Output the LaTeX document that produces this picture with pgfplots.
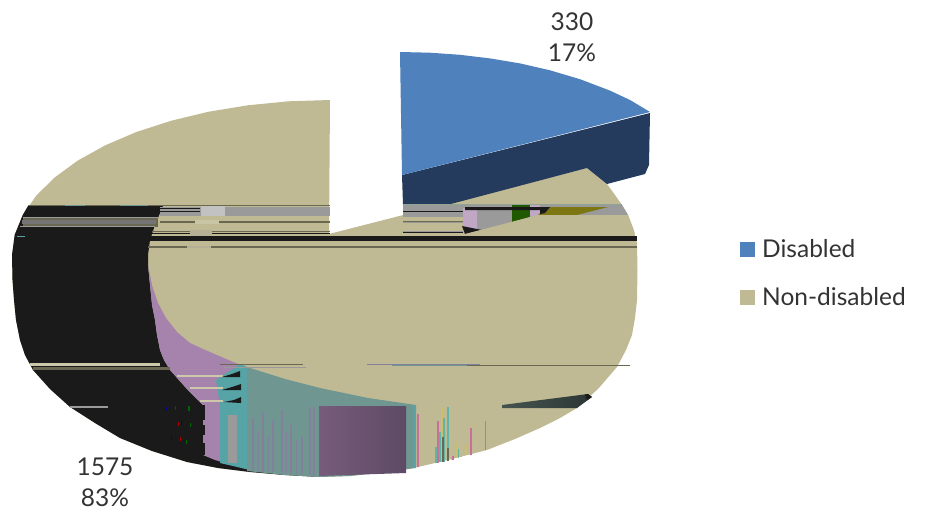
\documentclass[border=0pt]{standalone}
\usepackage{fontspec}
\setmainfont{Lato}
\usepackage{pgfplots}
\pgfplotsset{compat=1.18}
\definecolor{tan}{HTML}{C0BA94}
\definecolor{blueTop}{HTML}{4F81BD}
\definecolor{blueSide}{HTML}{243B5E}
\definecolor{ink}{HTML}{1A1A1A}
\definecolor{mauve}{HTML}{A583AC}
\definecolor{mauveL}{HTML}{775C7C}
\definecolor{mauveR}{HTML}{5D4A63}
\definecolor{teal2}{HTML}{57A4A7}
\definecolor{sage}{HTML}{6F9690}
\definecolor{steel}{HTML}{9A9A9A}
\definecolor{olive2}{HTML}{6A6850}
\definecolor{slate}{HTML}{45534F}
\definecolor{slateD}{HTML}{2C3735}
\definecolor{pinkS}{HTML}{C86F9A}
\definecolor{goldS}{HTML}{CDBE6E}
\definecolor{tealS}{HTML}{62B5A4}
\definecolor{plumS}{HTML}{83809C}
% a flat rectangle: colour, x from, x to, y from, y to
\newcommand\band[5]{\addplot[draw=none,fill=#1,forget plot] coordinates {(#2,#4)(#3,#4)(#3,#5)(#2,#5)} --cycle;}
\begin{document}
\begin{tikzpicture}
\begin{axis}[at={(0,0)},anchor=south west,scale only axis,width=927pt,height=517pt,
  xmin=0,xmax=927,ymin=0,ymax=517,y dir=reverse,hide axis,clip=false]
% large slice, top surface and front wall
\addplot[draw=none,fill=tan,forget plot] coordinates {(330,100)(288.5,101.3)(247.7,105.3)(208.3,111.8)(171,120.8)(136.4,132)(105.1,145.4)(77.7,160.6)(54.6,177.5)(36.2,195.7)(22.8,214.9)(14.7,234.8)(12,255)(12.5,280)(14,300)(16,320)(20,340)(25,355)(33,370)(50,389)(70,407)(95,423)(120,438)(152,451)(187,462)(218,468)(250,472)(285,475)(320,477)(350,476)(385,472)(418,467)(452,459)(487,450)(515,439)(540,428)(560,418)(577,408)(598,389)(617,367)(626,350)(632,335)(635,318)(637,300)(637.5,270)(637,243)(633,228)(628,215)(622,205)(615,195)(607,184)(600,178)(587,168)(329,234)} --cycle;
% small slice pulled out of the pie
\addplot[draw=none,fill=blueSide,forget plot] coordinates {(402,175)(650,113)(649,165)(645,174)(607,184)(587,168)(447,205)(403,205)} --cycle;
\addplot[draw=none,fill=blueTop,forget plot] coordinates {(400,52)(430,52.7)(460,54.8)(490,58.4)(520,63.4)(550,70.3)(580,79.2)(610,90.6)(630,100)(650,112)(402,175)} --cycle;
% dark wall on the left
\addplot[draw=none,fill=ink,forget plot] coordinates {(28,206)(163,206)(155,225)(150,240)(148,255)(148,265)(150,285)(152,305)(155,320)(157,335)(160,350)(164,360)(170,370)(186,388)(203,405)(203,455)(250,469)(320,477)(285,475)(250,472)(218,468)(187,462)(152,451)(120,438)(95,423)(70,407)(50,389)(33,370)(25,355)(20,340)(16,320)(14,300)(12.5,280)(12,255)(14.7,234.8)(22.8,214.9)} --cycle;
% coloured wall along the front
\addplot[draw=none,fill=mauve,forget plot] coordinates {(148,265)(152,285)(158,303)(166,318)(177,332)(190,343)(203,349)(217,355)(233,362)(250,368)(250,470)(215,460)(203,455)(203,405)(186,388)(170,370)(164,360)(160,350)(157,335)(155,320)(152,305)(150,285)} --cycle;
\addplot[draw=none,fill=teal2,forget plot] coordinates {(240,364)(250,368)(250,470)(220,463)(220,405)(216,380)} --cycle;
\addplot[draw=none,fill=sage,forget plot] coordinates {(247,367)(285,379)(320,388)(368,398)(416,405)(416,468)(385,472)(350,476)(320,477)(285,475)(247,471)} --cycle;
\band{steel}{228}{237}{415}{463}
\addplot[draw=none,left color=mauveL,right color=mauveR,forget plot] coordinates {(319,406)(406,406)(406,473)(319,476)} --cycle;
\band{teal2}{413}{416}{405}{468}
% thin uprights in the wall
\band{plumS}{252}{254}{418}{470}\band{plumS}{258}{259}{430}{471}\band{plumS}{262}{264}{412}{472}\band{plumS}{268}{269}{435}{472}\band{plumS}{272}{274}{420}{472}
\band{plumS}{281}{283}{410}{472}\band{plumS}{286}{287}{432}{473}\band{plumS}{290}{292}{425}{474}\band{plumS}{296}{297}{440}{474}\band{plumS}{301}{303}{437}{475}
\band{plumS}{309}{311}{407}{475}\band{plumS}{313}{315}{407}{475}
% thin uprights on the tan surface
\band{pinkS}{417}{419}{414}{467}\band{pinkS}{437}{439}{421}{463}\band{tealS}{435}{437}{447}{463}
\band{tealS}{439}{441}{432}{462}\band{goldS}{441}{443}{407}{462}\band{tealS}{443}{445}{418}{462}
\band{olive2}{442}{444}{437}{462}\band{tealS}{447}{449}{407}{461}\band{olive2}{447}{449}{448}{461}
\band{goldS}{451}{452}{433}{460}\band{pinkS}{452}{454}{456}{460}\band{goldS}{456}{457}{443}{458}
\band{tealS}{458}{459}{449}{458}\band{goldS}{461}{462}{448}{457}\band{goldS}{465}{467}{444}{455}
\band{pinkS}{470}{472}{428}{455}\band{goldS}{475}{476}{438}{453}\band{pinkS}{485}{486}{421}{450}
% dark wedge at the lower right
\addplot[draw=none,left color=slate,right color=slateD,forget plot] coordinates {(502,405)(588,394)(592,397)(577,408)(502,408)} --cycle;
\addplot[draw=none,fill=ink,forget plot] coordinates {(585,394.5)(588,394)(592,397)(587,400)} --cycle;
% light streaks and dark notches at the wall's shoulder
\band{tan!80!white}{177}{223}{375}{377}\band{tan!80!white}{190}{223}{387}{389}\band{tan!80!white}{200}{223}{400}{402}
\addplot[draw=none,fill=ink,forget plot] coordinates {(222,377)(232,374)(240,371)(240,377)} --cycle;
\addplot[draw=none,fill=ink,forget plot] coordinates {(222,390)(232,387)(241,384)(241,390)} --cycle;
\addplot[draw=none,fill=ink,forget plot] coordinates {(224,402)(234,400)(241,397)(241,403)} --cycle;
\band{steel}{70}{108}{406}{408}
\band{ink}{200}{205}{405}{420}\band{ink}{200}{205}{425}{435}\band{ink}{200}{205}{443}{455}
\band{red!70!black}{175}{176}{406}{410}\band{red!70!black}{178}{179}{422}{426}\band{red!70!black}{180}{181}{437}{441}
\band{blue!60!black}{166}{167}{407}{410}\band{blue!60!black}{181}{182}{421}{425}\band{blue!60!black}{171}{172}{436}{440}
\band{green!40!black}{188}{190}{406}{411}\band{green!40!black}{190}{191}{423}{427}\band{green!40!black}{186}{187}{440}{444}
% horizontal streaks across the upper part of the pie
\band{olive2}{28}{330}{205}{206}\band{sage}{65}{85}{205}{206}\band{sage}{120}{148}{205}{206}
\band{steel}{160}{330}{207}{216}\band{ink}{160}{200}{208}{209}\band{ink}{160}{200}{211}{212}
\band{steel!60!white}{201}{225}{206}{216}
\band{olive2}{160}{330}{221}{223}\band{tan!85!white}{195}{219}{220}{224}
\band{olive2}{23}{158}{217}{227}\band{steel}{23}{158}{217}{218}\band{steel!70!ink}{22}{156}{220}{224}\band{steel}{20}{155}{226}{227}
\band{olive2}{152}{330}{231}{232}\band{ink}{152}{330}{233}{234}
\band{tan!70!steel}{190}{212}{230}{236}
\band{ink}{148}{637}{236}{241}\band{teal2}{17}{25}{236}{237}
\band{olive2}{148}{637}{246}{248}\band{tan!70!steel}{187}{211}{246}{248}
% streaks where the colours change, right of the apex
\band{steel}{403}{463}{205}{233}
\band{tan}{403}{463}{217}{221}\band{tan}{403}{463}{223}{231}\band{olive2}{403}{463}{221}{222}
\band{ink}{403}{463}{211}{212}\band{ink}{403}{463}{232}{233}
\addplot[draw=none,fill=steel,forget plot] coordinates {(463,205)(622,205)(628,215)(577,215)(465,234)} --cycle;
\addplot[draw=none,fill=mauve!70!white,forget plot] coordinates {(463,208)(477,208)(477,229)(463,233)} --cycle;
\addplot[draw=none,fill=ink,forget plot] coordinates {(465,234)(462,226)(482,230)} --cycle;
\addplot[draw=none,fill=green!30!black!75!olive,forget plot] coordinates {(512,205)(530,205)(530,217)(512,222)} --cycle;
\addplot[draw=none,fill=mauve!70!white,forget plot] coordinates {(530,205)(540,205)(540,215)(530,217)} --cycle;
\addplot[draw=none,fill=olive!85!black,forget plot] coordinates {(547,207)(608,207)(577,215)(538,215)} --cycle;
\addplot[draw=none,fill=ink,forget plot] coordinates {(465,207)(550,207)(545,213)(540,214)(540,210)(465,210)} --cycle;
\addplot[draw=none,fill=tan,forget plot] coordinates {(465,234)(538,215)(628,215)(633,228)(635,234)} --cycle;
\band{sage!60!tan}{403}{622}{204}{205}
\band{ink}{148}{637}{236}{241}
% horizontal streaks across the lower part
\band{tan!80!white}{30}{160}{363}{366}\band{olive2}{33}{170}{367}{370}
\band{olive2}{220}{303}{364}{365}\band{steel}{224}{306}{367}{368}
\band{plumS}{367}{480}{364}{365}\band{sage}{392}{467}{365}{366}\band{olive2}{467}{630}{365}{366}
% legend keys
\band{blueTop}{740}{755}{242}{257}
\band{tan}{740}{755}{290}{305}
% value labels and legend text
\node[anchor=center,font=\fontsize{24.5}{28}\selectfont,text=black!80] at (axis cs:572,22) {330};
\node[anchor=center,font=\fontsize{24.5}{28}\selectfont,text=black!80] at (axis cs:572,53) {17\%};
\node[anchor=center,font=\fontsize{24.5}{28}\selectfont,text=black!80] at (axis cs:105,467) {1575};
\node[anchor=center,font=\fontsize{24.5}{28}\selectfont,text=black!80] at (axis cs:105,498) {83\%};
\node[anchor=west,inner sep=0pt,font=\fontsize{24.5}{28}\selectfont,text=black!80] at (axis cs:762,249) {Disabled};
\node[anchor=west,inner sep=0pt,font=\fontsize{24.5}{28}\selectfont,text=black!80] at (axis cs:762,297) {Non-disabled};
\end{axis}
\useasboundingbox (0,0) rectangle (927pt,517pt);
\end{tikzpicture}
\end{document}
